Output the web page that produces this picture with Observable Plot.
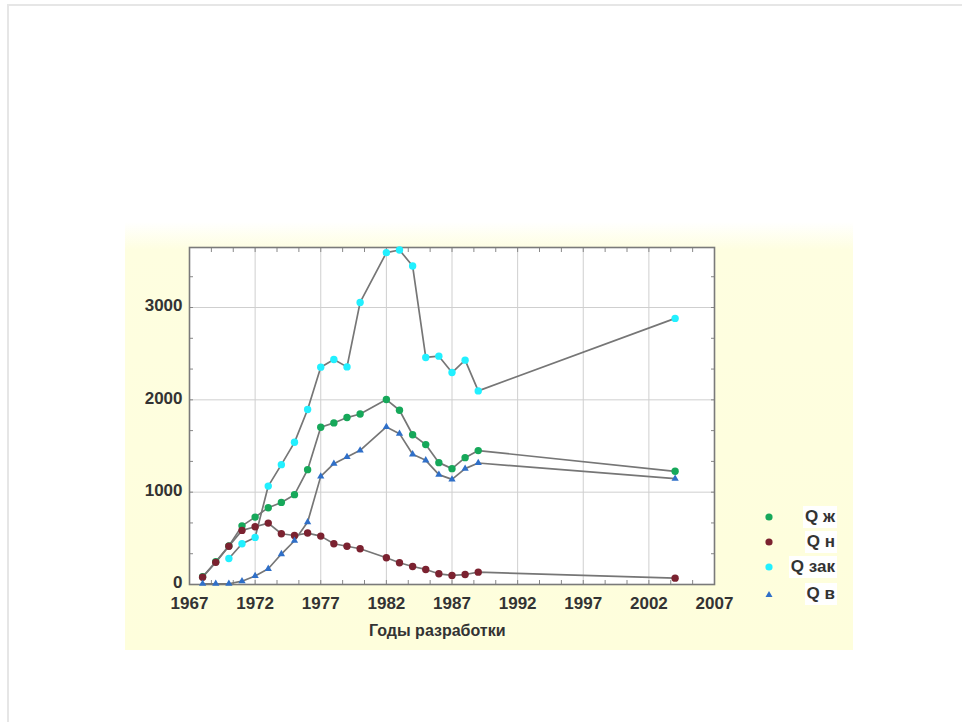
<!DOCTYPE html>
<html>
<head>
<meta charset="utf-8">
<script src="https://cdn.jsdelivr.net/npm/d3@7"></script>
<script src="https://cdn.jsdelivr.net/npm/@observablehq/plot@0.6"></script>
<style>
  html, body { margin: 0; padding: 0; background: #fff; }
  #page { position: relative; width: 962px; height: 722px; overflow: hidden; font-family: "Liberation Sans", Arial, sans-serif; }
  #border { position: absolute; left: 7px; top: 4px; width: 980px; height: 740px; border-left: 2px solid #e6e6e6; border-top: 2px solid #e6e6e6; }
  #panel { position: absolute; left: 125px; top: 222px; width: 728px; height: 428px;
           background: linear-gradient(to bottom, #ffffff 0px, #fefee0 28px, #fefedc 100%); }
  #chart { position: absolute; left: 0; top: 0; }
  .leg { position: absolute; height: 22px; font-weight: bold; font-size: 17px; color: #333; }
  .leg .lab { position: absolute; right: 0; top: 0; background: #fff; padding: 0 2px; line-height: 22px; white-space: nowrap; }
  .leg svg { position: absolute; top: 5px; }
</style>
</head>
<body>
<div id="page">
  <div id="border"></div>
  <div id="panel"></div>
  <div id="chart"></div>
  <div id="legend"></div>
</div>
<script>
// ---- data ----
const years = [1968,1969,1970,1971,1972,1973,1974,1975,1976,1977,1978,1979,1980,1982,1983,1984,1985,1986,1987,1988,1989,2004];
const qLiquid = [84,247,418,635,730,832,889,973,1244,1703,1750,1808,1847,2003,1887,1622,1515,1320,1255,1374,1450,1226];
const qOil    = [79,240,414,586,625,665,550,531,557,524,441,414,387,289,235,195,163,116,98,108,134,69];
const qInject = [null,null,282,441,510,1066,1298,1540,1895,2354,2437,2357,3055,3594,3623,3449,2459,2473,2296,2430,2097,2882];
const qWater  = [8,8,8,36,92,170,330,474,676,1171,1309,1381,1453,1706,1634,1410,1345,1190,1139,1255,1316,1146];

const seriesNames = ["Q ж", "Q н", "Q зак", "Q в"];
const seriesColors = ["#16a85a", "#7b2230", "#22f0ff", "#2f6fc8"];
const seriesSymbols = ["circle", "circle", "circle", "triangle"];
const seriesValues = [qLiquid, qOil, qInject, qWater];

const xTicks = [1967,1972,1977,1982,1987,1992,1997,2002,2007];
const yTicks = [0,1000,2000,3000];
const xMinor = d3.range(0, 25).map(i => 1967 + i * 5 / 3);
const yMinor = d3.range(0, 11).map(i => i * 1000 / 3);

const xLabel = "Годы разработки";

// ---- table ----
const rows = [];
seriesValues.forEach((vals, s) => {
  vals.forEach((v, i) => {
    if (v != null) rows.push({series: seriesNames[s], year: years[i], value: v, idx: s});
  });
});

const tickStyle = {fontSize: 17, fontWeight: "bold", fill: "#333"};

const chart = Plot.plot({
  width: 962,
  height: 722,
  marginLeft: 189,
  marginRight: 248,
  marginTop: 247,
  marginBottom: 138,
  style: {background: "transparent", fontFamily: "'Liberation Sans', Arial, sans-serif", overflow: "visible"},
  x: {domain: [1967, 2007]},
  y: {domain: [0, 3650]},
  marks: [
    Plot.frame({fill: "white", stroke: null}),
    Plot.gridX(xTicks, {stroke: "#cfcfcf", strokeOpacity: 1, strokeWidth: 1}),
    Plot.gridY(yTicks, {stroke: "#cfcfcf", strokeOpacity: 1, strokeWidth: 1}),
    Plot.axisX(xMinor, {anchor: "bottom", tickSize: -4, tickFormat: () => "", label: null, stroke: "#888"}),
    Plot.axisX(xMinor, {anchor: "top", tickSize: -4, tickFormat: () => "", label: null, stroke: "#888"}),
    Plot.axisY(yMinor, {anchor: "left", tickSize: -4, tickFormat: () => "", label: null, stroke: "#888"}),
    Plot.axisY(yMinor, {anchor: "right", tickSize: -4, tickFormat: () => "", label: null, stroke: "#888"}),
    Plot.axisX(xTicks, {anchor: "bottom", tickSize: 0, tickPadding: 12, tickFormat: d => String(d), label: null, ...tickStyle}),
    Plot.axisY(yTicks, {anchor: "left", tickSize: 0, tickPadding: 7, dy: -1.5, tickFormat: d => String(d), label: null, ...tickStyle}),
    Plot.frame({stroke: "#7a7a7a", strokeWidth: 1.6}),
    Plot.line(rows, {x: "year", y: "value", z: "series", stroke: "#767676", strokeWidth: 1.7}),
    ...seriesNames.map((name, s) =>
      Plot.dot(rows.filter(r => r.idx === s), {
        x: "year", y: "value",
        fill: seriesColors[s],
        symbol: seriesSymbols[s],
        r: s === 3 ? 2.7 : 3.7,
        stroke: "none"
      })
    )
  ]
});
document.getElementById("chart").appendChild(chart);

// x-axis title
const title = document.createElement("div");
title.textContent = xLabel;
title.style.cssText = "position:absolute;left:369px;top:622px;font-weight:bold;font-size:16px;color:#333;white-space:nowrap;";
document.getElementById("page").appendChild(title);

// legend
const legendY = [517, 542, 567, 594];
const legend = document.getElementById("legend");
seriesNames.forEach((name, s) => {
  const item = document.createElement("div");
  item.className = "leg";
  item.style.left = "760px";
  item.style.width = "77px";
  item.style.top = (legendY[s] - 11) + "px";
  const sym = seriesSymbols[s] === "triangle"
    ? `<polygon points="6,3 9.5,9 2.5,9" fill="${seriesColors[s]}"/>`
    : `<circle cx="6" cy="6" r="3.6" fill="${seriesColors[s]}"/>`;
  item.innerHTML = `<svg width="12" height="12" style="left:3px">${sym}</svg><span class="lab">${name}</span>`;
  legend.appendChild(item);
});
</script>
</body>
</html>
